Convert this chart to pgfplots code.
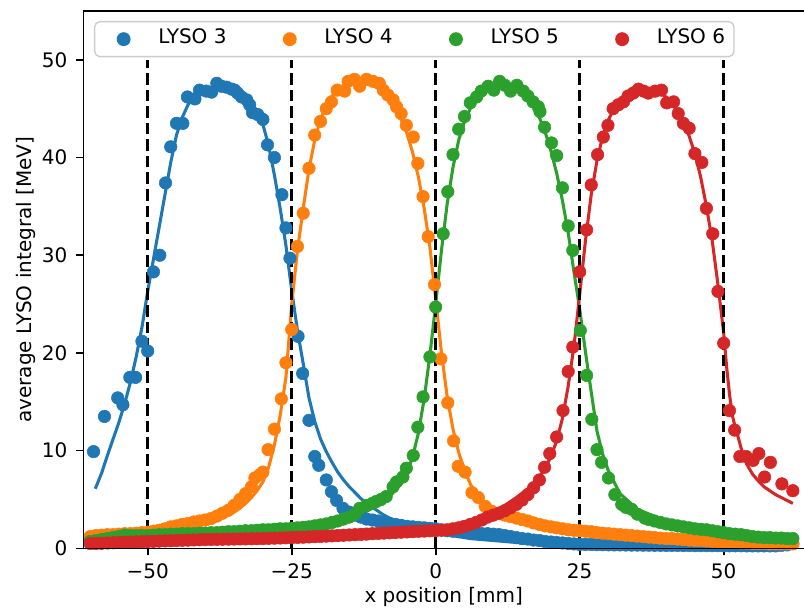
\documentclass[border=0pt]{standalone}
\usepackage{fontspec}
\setmainfont{DejaVu Sans}
\usepackage{pgfplots}
\pgfplotsset{compat=1.18}
\definecolor{c3}{HTML}{1F77B4}
\definecolor{c4}{HTML}{FF7F0E}
\definecolor{c5}{HTML}{2CA02C}
\definecolor{c6}{HTML}{D62728}
\begin{document}
\begin{tikzpicture}
\begin{axis}[
 scale only axis, width=540.4pt, height=403pt,
 xmin=-61.15, xmax=63.94, ymin=0, ymax=55,
 axis line style={draw=none},
 tick align=outside, xtick pos=left, ytick pos=left,
 major tick length=5.25pt,
 tick style={black, line width=1.25pt},
 xtick={-50,-25,0,25,50}, xticklabels={−50,−25,0,25,50},
 ytick={0,10,20,30,40,50}, yticklabels={0,10,20,30,40,50},
 tick label style={font=\fontsize{15}{18}\selectfont, inner sep=0pt},
 xticklabel style={yshift=-5.7pt},
 yticklabel style={xshift=-6.6pt},
 xlabel={x position [mm]},
 ylabel={average LYSO integral [MeV]},
 label style={font=\fontsize{15}{18}\selectfont},
 xlabel style={at={(axis description cs:0.5,-0.1012)}, anchor=base},
 ylabel style={at={(axis description cs:-0.0715,0.5)}, anchor=base},
 legend columns=4,
 legend cell align=left,
 legend image code/.code={\path[draw=none,fill=none] (0pt,-4pt) rectangle (41pt,4pt); \draw[#1, only marks, rounded corners=0pt] plot coordinates {(15pt,0pt)};},
 legend style={at={(axis description cs:0.0146,0.9814)}, anchor=north west,
   draw=black!20, line width=1pt, rounded corners=4pt, fill=white,
   inner xsep=6.75pt, inner ysep=6pt, font=\fontsize{15}{18}\selectfont,
   nodes={inner sep=0pt, text height=10.5pt, text depth=3.75pt},
   /tikz/every even column/.append style={column sep=32.45pt}},
 every axis plot/.append style={line join=round},
]
% ---------------- LYSO 3 ----------------
\addplot[only marks, mark=*, mark size=4.7pt, color=c3] table {
-59.4 9.9
-57.5 13.5
-55.2 15.4
-54.3 14.7
-53.1 17.5
-52.1 17.5
-51.0 21.2
-50.0 20.2
-49.0 28.3
-47.9 30.0
-46.9 37.4
-46.0 41.1
-45.0 43.5
-43.9 43.5
-43.1 46.2
-41.8 46.0
-41.0 46.9
-39.8 46.8
-38.9 46.7
-38.0 47.6
-37.2 47.3
-36.3 47.2
-35.4 47.0
-34.9 46.9
-34.4 46.6
-33.7 46.2
-32.8 45.9
-32.3 45.4
-31.8 44.6
-30.9 44.4
-30.0 43.9
-29.2 41.3
-28.0 40.0
-26.7 36.2
-26.0 32.8
-25.3 29.7
-23.9 21.7
-23.1 17.9
-22.0 13.1
-21.0 9.4
-20.3 8.5
-19.0 7.0
-18.1 5.8
-17.2 4.9
-16.1 4.1
-15.0 3.7
-14.0 3.4
-13.0 3.2
-12.0 3.0
-11.0 2.9
-10.0 2.8
-9.0 2.65
-8.0 2.55
-7.0 2.45
-6.0 2.35
-5.0 2.25
-4.0 2.2
-3.0 2.15
-2.0 2.1
-1.0 2.05
0 2.0
1 1.9
2 1.8
3 1.75
4 1.7
5 1.65
6 1.6
7 1.55
8 1.5
9 1.5
10 1.45
11 1.4
12 1.3
13 1.2
14 1.1
15 1.0
16 0.95
17 0.85
18 0.8
19 0.7
20 0.65
21 0.6
22 0.55
23 0.5
24 0.45
25 0.4
26 0.4
27 0.4
28 0.38
29 0.37
30 0.36
31 0.35
32 0.35
33 0.34
34 0.33
35 0.33
36 0.32
37 0.32
38 0.31
39 0.31
40 0.3
41 0.3
42 0.3
43 0.29
44 0.29
45 0.28
46 0.28
47 0.28
48 0.27
49 0.27
50 0.27
51 0.26
52 0.26
53 0.26
54 0.25
55 0.25
56 0.25
57 0.25
58 0.25
59 0.25
60 0.3
61 0.35
62 0.5
};
\addlegendentry{LYSO 3}
\addplot[c3, line width=2.3pt, forget plot] table {
-59.1 6.1
-58 7.7
-57 9.5
-56 11.2
-55 12.9
-54 14.8
-53 17.0
-52 19.6
-51 22.6
-50 26.3
-49 29.6
-48 32.9
-47 36.2
-46 39.5
-45 42.3
-44 44.1
-43 45.4
-42 46.2
-41 46.6
-40 46.9
-39 47.1
-38 47.1
-37 47.1
-36 47.0
-35 46.8
-34 46.5
-33 46.0
-32 45.4
-31 44.6
-30 43.4
-29 41.2
-28 38.2
-27 34.8
-26 31.0
-25 26.4
-24 22.3
-23 18.9
-22 15.4
-21 13.0
-20 11.2
-19 9.9
-18 8.8
-17 7.8
-16 7.0
-15 6.3
-14 5.7
-13 5.1
-12 4.6
-11 4.2
-10 3.8
-9 3.4
-8 3.1
-7 2.8
-6 2.5
-5 2.3
-4 2.1
-3 1.9
-2 1.8
-1 1.7
0 1.6
2 1.4
4 1.2
6 1.0
8 0.9
10 0.8
15 0.55
20 0.4
25 0.3
30 0.25
40 0.2
50 0.15
62 0.1
};
% ---------------- LYSO 4 ----------------
\addplot[only marks, mark=*, mark size=4.7pt, color=c4] table {
-60 1.2
-59 1.3
-58 1.35
-57 1.4
-56 1.4
-55 1.45
-54 1.5
-53 1.5
-52 1.55
-51 1.6
-50 1.65
-49 1.75
-48 1.85
-47 2.0
-46 2.2
-45 2.3
-44 2.45
-43 2.55
-42 2.7
-41 2.8
-40 2.9
-39 3.05
-38 3.3
-37 3.6
-36 3.9
-35 4.4
-34 5.0
-33 5.6
-32 6.3
-31.4 7.2
-30.6 7.5
-30.0 7.8
-29.1 10.1
-28.0 12.2
-26.8 15.3
-26.0 19.0
-25.0 22.4
-24.0 30.9
-23.0 34.3
-22.0 38.9
-21.0 42.3
-20.0 43.7
-19.0 45.0
-18.1 45.7
-17.1 46.9
-15.8 46.8
-15.2 47.8
-14.1 48.0
-13.2 47.3
-12.0 48.0
-10.9 47.8
-9.8 47.6
-9.1 46.9
-8.3 46.4
-7.4 45.9
-6.8 45.2
-6.0 44.5
-5.1 43.3
-3.9 42.1
-3.1 39.4
-2.2 36.0
-1.3 31.9
-0.2 27.0
0.9 19.4
2.1 14.9
3.1 11.0
3.9 8.4
5.1 7.8
6.3 5.7
7.4 5.2
8.6 4.3
9.7 3.8
11 3.6
12 3.4
13 3.25
14 3.1
15 2.95
16 2.8
17 2.6
18 2.45
19 2.3
20 2.2
21 2.1
22 2.0
23 1.9
24 1.85
25 1.8
26 1.75
27 1.7
28 1.6
29 1.55
30 1.5
31 1.45
32 1.4
33 1.35
34 1.3
35 1.25
36 1.2
37 1.15
38 1.1
39 1.05
40 1.0
41 1.0
42 0.95
43 0.9
44 0.85
45 0.8
46 0.8
47 0.75
48 0.7
49 0.7
50 0.65
51 0.6
52 0.6
53 0.55
54 0.55
55 0.5
56 0.5
57 0.5
58 0.45
59 0.45
60 0.45
61 0.45
62 0.45
};
\addlegendentry{LYSO 4}
\addplot[c4, line width=2.3pt, forget plot] table {
-60 1.0
-55 1.2
-50 1.5
-45 1.9
-42 2.2
-40 2.5
-38 2.85
-37 3.1
-36 3.4
-35 3.7
-34 4.1
-33 4.6
-32 5.2
-31 5.9
-30 6.8
-29 8.3
-28 10.6
-27 13.6
-26 17.5
-25 25.0
-24 30.5
-23 34.8
-22 38.8
-21 41.8
-20 43.9
-19 45.3
-18 46.3
-17 47.0
-16 47.4
-15 47.6
-14 47.7
-13 47.7
-12 47.6
-11 47.4
-10 47.1
-9 46.6
-8 45.9
-7 45.0
-6 43.9
-5 42.5
-4 40.5
-3 38.0
-2 34.8
-1 30.8
0 25.5
1 20.0
2 15.5
3 12.2
4 9.8
5 8.0
6 6.6
7 5.6
8 4.8
9 4.2
10 3.8
12 3.2
15 2.6
20 2.0
25 1.6
30 1.3
40 0.9
50 0.6
62 0.4
};
% ---------------- LYSO 5 ----------------
\addplot[only marks, mark=*, mark size=4.7pt, color=c5] table {
-60 0.7
-59 0.8
-58 0.9
-57 1.0
-56 1.1
-55 1.2
-54 1.35
-53 1.3
-52 1.3
-51 1.3
-50 1.3
-49 1.35
-48 1.4
-47 1.4
-46 1.45
-45 1.45
-44 1.5
-43 1.5
-42 1.5
-41 1.55
-40 1.55
-39 1.6
-38 1.6
-37 1.65
-36 1.7
-35 1.7
-34 1.75
-33 1.8
-32 1.8
-31 1.85
-30 1.9
-29 1.9
-28 1.95
-27 2.0
-26 2.0
-25 2.05
-24 2.1
-23 2.15
-22 2.2
-21 2.3
-20 2.4
-19 2.5
-18 2.65
-17 2.8
-16 3.0
-15 3.2
-14 3.5
-13.2 4.1
-12 4.4
-11 4.6
-10.3 4.8
-9.5 5.0
-8.6 5.3
-7.4 6.3
-6.8 6.8
-5.7 7.3
-5.1 8.2
-3.9 9.5
-3.1 12.4
-2.2 15.5
-1.0 19.6
0 24.7
1.3 32.2
2.1 36.5
3.0 40.3
4.0 42.9
5.0 44.2
6.0 45.6
7.1 46.2
7.9 46.8
9.1 47.3
10.1 46.9
11.1 47.8
12.0 47.4
13.0 46.8
14.1 47.4
15.2 46.8
16.0 46.3
16.9 45.7
17.8 45.2
18.1 44.7
18.9 43.1
20.1 41.5
21.0 40.2
22.0 36.9
23.0 33.0
23.8 30.5
25.1 22.3
26.2 17.7
27.1 13.2
28.0 10.1
28.8 8.8
30.0 7.2
31.1 5.5
32.3 4.5
33 4.2
34.0 4.0
35 3.5
36.3 3.1
37 2.95
38 2.8
39 2.65
40 2.5
41 2.4
42 2.3
43 2.2
44 2.1
45 2.0
46 1.95
47 1.9
48 1.8
49 1.7
50 1.6
51 1.5
52 1.45
53 1.4
54 1.3
55 1.2
56 1.15
57 1.1
58 1.1
59 1.05
60 1.05
61 1.0
62 1.0
};
\addlegendentry{LYSO 5}
\addplot[c5, line width=2.3pt, forget plot] table {
-60 0.9
-50 1.2
-40 1.5
-30 1.85
-25 2.0
-20 2.4
-15 3.1
-12 3.8
-10 4.4
-8 5.3
-6 6.6
-5 7.6
-4 9.4
-3 11.8
-2 15.3
-1 19.8
0 25.0
1 30.5
2 35.3
3 39.0
4 41.8
5 43.7
6 45.0
7 45.9
8 46.5
9 46.9
10 47.1
11 47.2
12 47.2
13 47.1
14 46.9
15 46.5
16 46.0
17 45.2
18 44.1
19 42.6
20 40.7
21 38.4
22 35.6
23 32.3
24 28.3
25 24.5
26 20.1
27 16.0
28 12.0
29 9.6
30 7.9
32 5.6
35 4.0
40 2.8
45 2.1
50 1.6
55 1.3
62 1.0
};
% ---------------- LYSO 6 ----------------
\addplot[only marks, mark=*, mark size=4.7pt, color=c6] table {
-60 0.5
-59 0.5
-58 0.52
-57 0.55
-56 0.57
-55 0.6
-54 0.62
-53 0.64
-52 0.66
-51 0.68
-50 0.7
-49 0.72
-48 0.74
-47 0.76
-46 0.78
-45 0.8
-44 0.82
-43 0.84
-42 0.86
-41 0.88
-40 0.9
-39 0.91
-38 0.92
-37 0.93
-36 0.94
-35 0.95
-34 0.96
-33 0.97
-32 0.98
-31 0.99
-30 1.0
-29 1.02
-28 1.04
-27 1.06
-26 1.08
-25 1.1
-24 1.12
-23 1.14
-22 1.17
-21 1.2
-20 1.22
-19 1.25
-18 1.28
-17 1.31
-16 1.34
-15 1.37
-14 1.4
-13 1.43
-12 1.46
-11 1.5
-10 1.53
-9 1.56
-8 1.59
-7 1.62
-6 1.65
-5 1.68
-4 1.71
-3 1.74
-2 1.77
-1 1.8
0 1.82
1 1.85
2 1.9
3 2.0
4 2.1
5 2.25
6 2.45
7 2.65
8 2.9
9 3.2
10 3.4
11 3.6
12 3.85
13 4.15
14 4.5
15 4.95
16 5.5
17 6.2
18 7.0
18.9 8.3
19.8 9.7
21.0 11.4
22.1 14.1
23.0 18.1
23.8 20.6
25.0 28.3
26.2 32.6
27.0 37.2
28.1 40.3
29.1 42.1
29.9 43.3
30.8 45.0
31.7 45.4
32.6 45.7
33.4 46.3
34.3 46.6
35.2 47.0
36.1 46.8
36.9 46.6
38.1 46.8
39.2 46.9
40.1 45.6
41.3 45.7
42.1 44.5
43.0 43.5
44.0 43.0
45.0 40.4
46.2 39.5
47.0 34.8
48.1 32.2
49.0 26.3
50.0 21.0
51.0 14.1
51.9 12.1
52.8 9.4
53.9 9.4
55.1 9.0
56.1 9.7
57.1 7.3
58.1 8.8
60.1 6.6
62.0 5.9
};
\addlegendentry{LYSO 6}
\addplot[c6, line width=2.3pt, forget plot] table {
-60 0.3
-50 0.5
-40 0.7
-30 0.9
-20 1.15
-10 1.45
0 1.8
2 2.1
4 2.45
6 2.85
8 3.3
10 3.8
12 4.4
14 5.2
16 6.1
18 7.3
19 8.2
20 9.4
21 11.0
22 13.3
23 16.6
24 20.7
25 26.0
26 31.5
27 36.2
28 39.7
29 42.2
30 43.9
31 45.0
32 45.8
33 46.3
34 46.7
35 46.9
36 47.0
37 47.0
38 46.9
39 46.6
40 46.2
41 45.6
42 44.7
43 43.6
44 42.2
45 40.4
46 38.0
47 35.0
48 31.5
49 27.0
50 22.0
50.5 18.6
51 15.8
51.5 13.6
52 12.4
52.5 11.4
53 10.3
54 8.6
55 7.6
56 6.9
57 6.3
58 5.9
59 5.5
60 5.2
61 4.9
62 4.6
};
% ---------------- boundaries ----------------
\addplot[black, line width=2.3pt, dash pattern=on 8.67pt off 3.75pt, forget plot] coordinates {(-50,0) (-50,50)};
\addplot[black, line width=2.3pt, dash pattern=on 8.67pt off 3.75pt, forget plot] coordinates {(-25,0) (-25,50)};
\addplot[black, line width=2.3pt, dash pattern=on 8.67pt off 3.75pt, forget plot] coordinates {(0,0) (0,50)};
\addplot[black, line width=2.3pt, dash pattern=on 8.67pt off 3.75pt, forget plot] coordinates {(25,0) (25,50)};
\addplot[black, line width=2.3pt, dash pattern=on 8.67pt off 3.75pt, forget plot] coordinates {(50,0) (50,50)};
\coordinate (bl) at (rel axis cs:0,0);
\coordinate (tr) at (rel axis cs:1,1);
\end{axis}
\draw[black, line width=1.25pt] (tr) -- (bl |- tr) -- (bl) -- (bl -| tr);
\pgfresetboundingbox
\path[use as bounding box] ([xshift=-62.6pt,yshift=-44.8pt]bl) rectangle ([yshift=8.25pt]tr);
\end{tikzpicture}
\end{document}
